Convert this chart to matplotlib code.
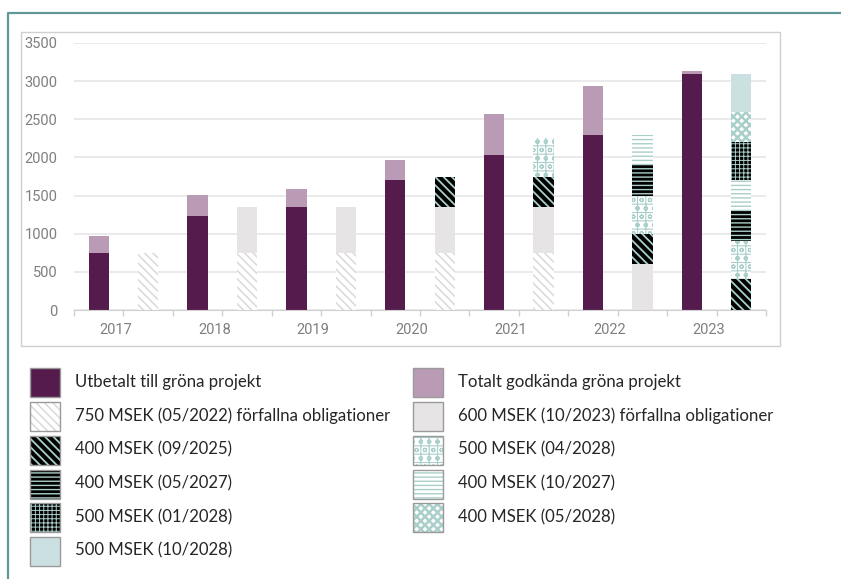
"""
Gröna obligationer: utbetalt / godkänt mot utestående obligationer per år
"""

import matplotlib
matplotlib.use('Agg')
import matplotlib.pyplot as plt
from matplotlib.patches import Rectangle
from matplotlib.lines import Line2D

# ── Data (MSEK) ──────────────────────────────────────────────────────────────
years = ['2017', '2018', '2019', '2020', '2021', '2022', '2023']
utbetalt = [750, 1230, 1350, 1700, 2030, 2300, 3100]
godkanda = [970, 1510, 1580, 1970, 2565, 2930, 3130]

# utestående obligationer per år, i staplingsordning nedifrån
obl_750_0522 = [750, 750, 750, 750, 750, 0, 0]
obl_600_1023 = [0, 600, 600, 600, 600, 600, 0]
obl_400_0925 = [0, 0, 0, 400, 400, 400, 400]
obl_500_0428 = [0, 0, 0, 0, 500, 500, 500]
obl_400_0527 = [0, 0, 0, 0, 0, 400, 400]
obl_400_1027 = [0, 0, 0, 0, 0, 400, 400]
obl_500_0128 = [0, 0, 0, 0, 0, 0, 500]
obl_400_0528 = [0, 0, 0, 0, 0, 0, 400]
obl_500_1028 = [0, 0, 0, 0, 0, 0, 500]

yticks = [0, 500, 1000, 1500, 2000, 2500, 3000, 3500]

# ── Stil ─────────────────────────────────────────────────────────────────────
LILA = '#551B4D'
LJUSLILA = '#B99BB6'
GRA = '#E6E4E5'
TEAL = '#A9CFCB'
LJUSTEAL = '#CBE1E1'
TXT = '#7F7F7F'

# (etikett, värden, färg, hatch, hatchfärg, hatch-linjebredd)
obligationer = [
    ('750 MSEK (05/2022) förfallna obligationer', obl_750_0522, 'white', '\\\\\\\\', '#D9D9D9', 1.1),
    ('600 MSEK (10/2023) förfallna obligationer', obl_600_1023, GRA, None, GRA, 0),
    ('400 MSEK (09/2025)', obl_400_0925, 'black', '\\\\\\\\', TEAL, 1.3),
    ('500 MSEK (04/2028)', obl_500_0428, 'white', '++oo', TEAL, 0.8),
    ('400 MSEK (05/2027)', obl_400_0527, 'black', '----', TEAL, 1.0),
    ('400 MSEK (10/2027)', obl_400_1027, 'white', '----', TEAL, 1.0),
    ('500 MSEK (01/2028)', obl_500_0128, 'black', '++++', TEAL, 0.7),
    ('400 MSEK (05/2028)', obl_400_0528, 'white', 'xxxx', TEAL, 1.8),
    ('500 MSEK (10/2028)', obl_500_1028, LJUSTEAL, None, LJUSTEAL, 0),
]

W, H = 841, 579
fig = plt.figure(figsize=(W / 100, H / 100), dpi=100)
fig.patch.set_facecolor('white')


def fx(x):
    return x / W


def fy(y):
    return 1 - y / H


def set_hlw(patch, lw):
    if hasattr(patch, 'set_hatch_linewidth'):
        patch.set_hatch_linewidth(lw)


# yttre ram (teal) och diagramruta (grå)
fig.add_artist(Line2D([fx(8), fx(8), fx(W)], [fy(H), fy(12.5), fy(12.5)],
                      transform=fig.transFigure, color='#5E9898', lw=1.6))
fig.add_artist(Rectangle((fx(21), fy(346)), fx(780) - fx(21), fy(32) - fy(346),
                         transform=fig.transFigure, facecolor='white',
                         edgecolor='#D0D0D0', lw=1.0, zorder=-1))

ax = fig.add_axes([fx(74), fy(310), fx(766) - fx(74), fy(43) - fy(310)])
ax.set_facecolor('none')

n = len(years)
x_utb = [2 * i for i in range(n)]
x_obl = [2 * i + 1 for i in range(n)]
bw = 0.41

ax.bar(x_utb, utbetalt, bw, color=LILA, zorder=3)
ax.bar(x_utb, [g - u for g, u in zip(godkanda, utbetalt)], bw,
       bottom=utbetalt, color=LJUSLILA, zorder=3)

bottom = [0] * n
for label, vals, fc, hatch, hc, hlw in obligationer:
    bars = ax.bar(x_obl, vals, bw, bottom=bottom, color=fc, edgecolor=hc,
                  linewidth=0, hatch=hatch, zorder=3)
    for b in bars:
        set_hlw(b, hlw)
    bottom = [b + v for b, v in zip(bottom, vals)]

ax.set_xlim(-0.5, 2 * n - 0.5)
ax.set_ylim(0, 3500)
ax.set_yticks(yticks)
ax.set_yticklabels([str(v) for v in yticks], fontsize=10.5, color=TXT, family='Roboto')
ax.tick_params(axis='y', length=0, pad=12)
ax.grid(axis='y', color='#E6E6E6', lw=1.2, zorder=0)

ax.set_xticks([2 * i + 0.34 for i in range(n)])
ax.set_xticklabels(years, fontsize=10.5, color=TXT, family='Roboto')
ax.tick_params(axis='x', which='major', length=0, pad=9)
ax.set_xticks([i - 0.5 for i in range(2 * n + 1)], minor=True)
ax.tick_params(axis='x', which='minor', length=4, color='#D0D0D0', width=1)

for s in ['top', 'right', 'left']:
    ax.spines[s].set_visible(False)
ax.spines['bottom'].set_color('#D0D0D0')
ax.spines['bottom'].set_zorder(4)

# ── Förklaring ───────────────────────────────────────────────────────────────
stil = {'Utbetalt till gröna projekt': (LILA, None, LILA, 0),
        'Totalt godkända gröna projekt': (LJUSLILA, None, LJUSLILA, 0)}
for label, vals, fc, hatch, hc, hlw in obligationer:
    stil[label] = (fc, hatch, hc, hlw)

vanster = ['Utbetalt till gröna projekt', obligationer[0][0], obligationer[2][0],
           obligationer[4][0], obligationer[6][0], obligationer[8][0]]
hoger = ['Totalt godkända gröna projekt', obligationer[1][0], obligationer[3][0],
         obligationer[5][0], obligationer[7][0]]

rad_y = [382.7 + 33.8 * i for i in range(6)]
for kol_x, etiketter in [(30, vanster), (413, hoger)]:
    for yc, label in zip(rad_y, etiketter):
        fc, hatch, hc, hlw = stil[label]
        r = Rectangle((fx(kol_x), fy(yc + 14.5)), fx(30), 29 / H,
                      transform=fig.transFigure, facecolor=fc, hatch=hatch,
                      edgecolor=hc, lw=0)
        set_hlw(r, hlw)
        fig.add_artist(r)
        fig.add_artist(Rectangle((fx(kol_x), fy(yc + 14.5)), fx(30), 29 / H,
                                 transform=fig.transFigure, facecolor='none',
                                 edgecolor='#9A9A9A', lw=1.0))
        fig.text(fx(kol_x + 45), fy(yc - 1), label, fontsize=12.1, color='#262626',
                 family='Lato', va='center', ha='left')

fig.savefig('out.png', dpi=100)
